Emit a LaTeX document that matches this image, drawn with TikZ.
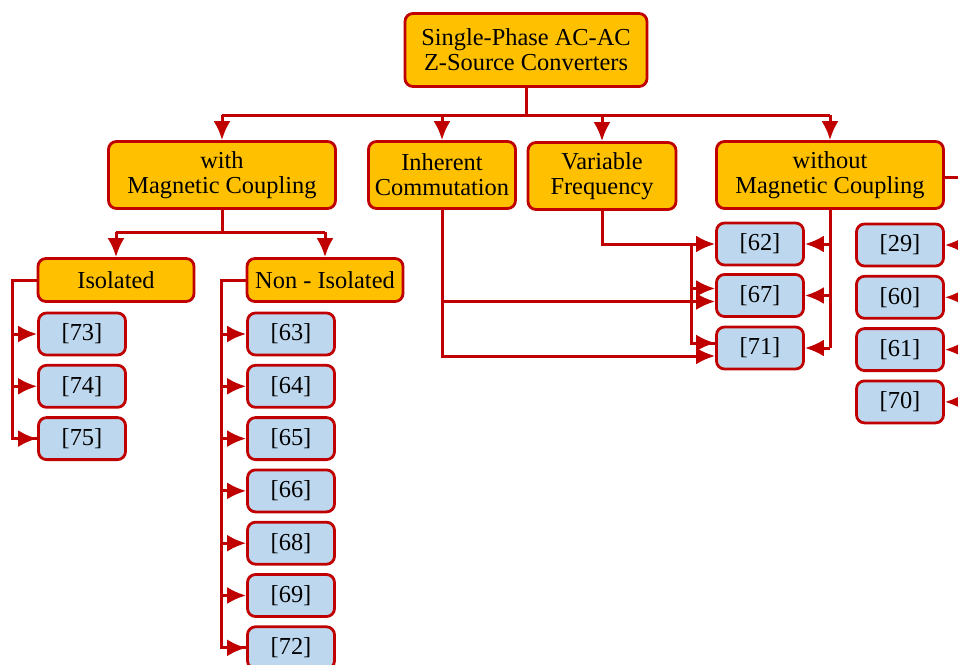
\documentclass[tikz,border=0pt]{standalone}
\usepackage{fontspec}
\setmainfont{Liberation Serif}
\usetikzlibrary{arrows.meta,positioning}
\definecolor{boxred}{HTML}{C00000}
\definecolor{boxorange}{HTML}{FFC000}
\definecolor{boxblue}{HTML}{BDD7EE}
\tikzset{
  basic/.style  = {draw=boxred, line width=1.4pt, rectangle, rounded corners=4pt, inner sep=1pt,
                   font=\fontsize{12.2}{12.6}\selectfont},
  root/.style   = {basic, fill=boxorange, align=center, minimum width=121pt, minimum height=36.5pt},
  group/.style  = {basic, fill=boxorange, align=center, minimum height=33.5pt},
  sub/.style    = {basic, fill=boxorange, minimum width=78pt, minimum height=21.5pt},
  refbox/.style = {basic, fill=boxblue, minimum width=43.5pt, minimum height=21pt},
  link/.style   = {draw=boxred, line width=1.5pt}
}

\begin{document}
\begin{tikzpicture}[x=0.5pt,y=-0.5pt,>={Latex[length=9.5pt,width=8.5pt]}]
  \path[use as bounding box] (0,0) rectangle (958,664);
  \clip (0,0) rectangle (958,664);
  % main boxes
  \node[root] (conv) at (526,50) {Single-Phase AC-AC\\Z-Source Converters};
  \node[group, minimum width=113.5pt] (withmc) at (222,175) {with\\Magnetic Coupling};
  \node[group, minimum width=73.5pt] (inh) at (442,175) {Inherent\\Commutation};
  \node[group, minimum width=74pt] (varf) at (602,176) {Variable\\Frequency};
  \node[group, minimum width=113.5pt] (womc) at (830,175) {without\\Magnetic Coupling};
  \node[sub] (iso) at (116,280) {Isolated};
  \node[sub] (noniso) at (325,280) {Non - Isolated};
  % reference boxes
  \foreach \r [count=\i] in {73,74,75}
    \node[refbox] (r\r) at (82,{334+52.3*(\i-1)}) {[\r]};
  \foreach \r [count=\i] in {63,64,65,66,68,69,72}
    \node[refbox] (r\r) at (291,{334+52.3*(\i-1)}) {[\r]};
  \node[refbox] (r62) at (760,244) {[62]};
  \node[refbox] (r67) at (760,295.5) {[67]};
  \node[refbox] (r71) at (760,348) {[71]};
  \foreach \r [count=\i] in {29,60,61,70}
    \node[refbox] (r\r) at (900,{245+52.3*(\i-1)}) {[\r]};

  % bus lines
  \coordinate (bus) at (526,115);
  \coordinate (wbus) at (222,232);
  \coordinate (isobus) at (12,280);
  \coordinate (nisobus) at (221,280);
  \coordinate (vbus) at (691,244);
  \coordinate (weast) at (975,177);
  \coordinate (up67) at ([yshift=3.5pt]r67.west);
  \coordinate (lo67) at ([yshift=-3pt]r67.west);
  \coordinate (up71) at ([yshift=2.5pt]r71.west);
  \coordinate (lo71) at ([yshift=-4pt]r71.west);

  \begin{scope}[every path/.style={link}]
    \draw (conv.south) -- (bus);
    \draw (withmc.north |- bus) -- (womc.north |- bus);
    \foreach \n in {withmc,inh,varf,womc}
      \draw[->] (\n.north |- bus) -- (\n.north);
    \draw (withmc.south) -- (wbus);
    \draw (iso.north |- wbus) -- (noniso.north |- wbus);
    \foreach \n in {iso,noniso}
      \draw[->] (\n.north |- wbus) -- (\n.north);
    % isolated
    \draw (iso.west) -- (isobus) |- (r75.west);
    \foreach \r in {73,74,75}
      \draw[->] (isobus |- r\r.west) -- (r\r.west);
    % non-isolated
    \draw (noniso.west) -- (nisobus) |- (r72.west);
    \foreach \r in {63,64,65,66,68,69,72}
      \draw[->] (nisobus |- r\r.west) -- (r\r.west);
    % variable frequency
    \draw[->] (varf.south) |- (r62.west);
    \draw (vbus) |- (up71);
    \draw[->] (vbus |- up67) -- (up67);
    \draw[->] (vbus |- up71) -- (up71);
    % inherent commutation
    \draw[->] (inh.south) |- (lo71);
    \draw[->] (inh.south |- lo67) -- (lo67);
    % without magnetic coupling
    \draw (womc.south) -- (womc.south |- r71.east);
    \foreach \r in {62,67,71}
      \draw[->] (womc.south |- r\r.east) -- (r\r.east);
    \draw (womc.east |- weast) -- (weast);
    \foreach \r in {29,60,61,70}
      \draw[->] (weast |- r\r.east) -- (r\r.east);
  \end{scope}
\end{tikzpicture}
\end{document}
